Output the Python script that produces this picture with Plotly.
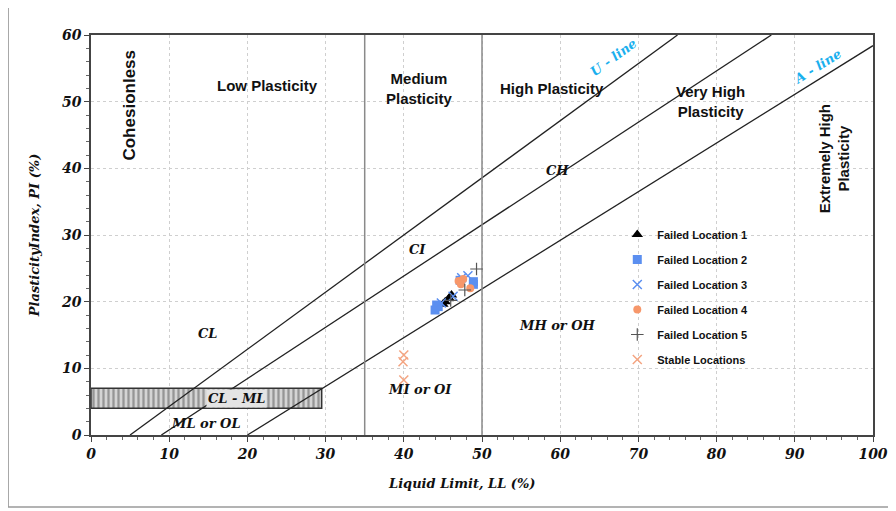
import plotly.graph_objects as go

# ---- data ----
fl1_ll = [46.1, 45.8, 45.3, 45.0]
fl1_pi = [21.0, 20.5, 20.0, 19.6]
fl2_ll = [44.0, 44.4, 44.2, 48.9, 48.9, 47.2]
fl2_pi = [18.75, 19.25, 19.5, 23.0, 22.6, 23.2]
fl3_ll = [48.2, 46.3, 44.8, 47.4]
fl3_pi = [23.9, 20.8, 19.8, 23.6]
fl4_ll = [47.0, 47.6, 48.5, 47.3]
fl4_pi = [23.1, 23.4, 22.0, 22.6]
fl5_ll = [49.3, 47.8, 46.0]
fl5_pi = [24.9, 21.75, 20.2]
st_ll = [40.0, 39.9, 40.0]
st_pi = [12.0, 11.0, 8.25]

uline_ll = [5, 75]
uline_pi = [0, 60]
mid_ll = [9, 87]
mid_pi = [0, 60]
aline_ll = [20, 100]
aline_pi = [0, 58.4]

hatch_ll = [0, 29.5, 29.5, 0, 0]
hatch_pi = [4, 4, 7, 7, 4]

bounds_ll = [35, 50]

script_font = "DejaVu Serif"
sans = "Liberation Sans"

fig = go.Figure()

# hatched CL-ML zone
fig.add_trace(go.Scatter(x=hatch_ll, y=hatch_pi, mode="lines", fill="toself",
                         line=dict(color="#333333", width=1.5),
                         fillpattern=dict(shape="|", bgcolor="#d4d4d4", fgcolor="#555555",
                                          size=5, solidity=0.45),
                         fillcolor="#d4d4d4",
                         showlegend=False, hoverinfo="skip"))

for lx, ly in [(uline_ll, uline_pi), (mid_ll, mid_pi), (aline_ll, aline_pi)]:
    fig.add_trace(go.Scatter(x=lx, y=ly, mode="lines", line=dict(color="#222222", width=1.3),
                             showlegend=False, hoverinfo="skip"))

for b in bounds_ll:
    fig.add_trace(go.Scatter(x=[b, b], y=[0, 60], mode="lines",
                             line=dict(color="#8a8a8a", width=1.5),
                             showlegend=False, hoverinfo="skip"))

series = [
    ("Failed Location 1", fl1_ll, fl1_pi, dict(symbol="triangle-up", color="black", size=10)),
    ("Failed Location 2", fl2_ll, fl2_pi, dict(symbol="square", color="#5b8ff0", size=9)),
    ("Failed Location 3", fl3_ll, fl3_pi, dict(symbol="x-thin-open", color="#5b8ff0", size=9,
                                                line=dict(color="#5b8ff0", width=1.5))),
    ("Failed Location 4", fl4_ll, fl4_pi, dict(symbol="circle", color="#f7976a", size=8)),
    ("Failed Location 5", fl5_ll, fl5_pi, dict(symbol="cross-thin-open", color="#555555", size=9,
                                                line=dict(color="#555555", width=1.2))),
    ("Stable Locations", st_ll, st_pi, dict(symbol="x-thin-open", color="#f4a582", size=9,
                                             line=dict(color="#f4a582", width=1.5))),
]
for i, (name, xs, ys, mk) in enumerate(series):
    fig.add_trace(go.Scatter(x=xs, y=ys, mode="markers", name=name, marker=mk,
                             legendgroup=f"g{i}"))

# annotations
def ann(x, y, text, size=15, font=sans, color="#111111", angle=0, bold=True, italic=False, **kw):
    t = text
    if bold:
        t = f"<b>{t}</b>"
    if italic:
        t = f"<i>{t}</i>"
    fig.add_annotation(x=x, y=y, xref="x", yref="y", text=t, showarrow=False,
                       font=dict(family=font, size=size, color=color), textangle=angle, **kw)

ann(4.8, 49.5, "Cohesionless", size=17, angle=-90)
ann(22.6, 52.5, "Low Plasticity", size=15)
ann(42.0, 52.0, "Medium<br>Plasticity", size=15)
ann(58.9, 52.0, "High Plasticity", size=15)
ann(79.2, 50.0, "Very High<br>Plasticity", size=15)
ann(95.0, 41.5, "Extremely High<br>Plasticity", size=15, angle=-90)
ann(66.8, 56.6, "U - line", size=13, font=script_font, color="#1ab0ee", angle=-36, italic=True)
ann(92.9, 55.3, "A - line", size=13, font=script_font, color="#1ab0ee", angle=-32, italic=True)
ann(59.6, 39.7, "CH", size=13, font=script_font, italic=True)
ann(41.8, 27.9, "CI", size=13, font=script_font, italic=True)
ann(15.0, 15.2, "CL", size=13, font=script_font, italic=True)
ann(59.7, 16.5, "MH or OH", size=13, font=script_font, italic=True)
ann(42.1, 6.8, "MI or OI", size=13, font=script_font, italic=True)
ann(18.6, 5.5, "CL - ML", size=13, font=script_font, italic=True, bgcolor="#e4e4e4", borderpad=1)
ann(14.7, 1.8, "ML or OL", size=13, font=script_font, italic=True)

# x-axis title (placed slightly left of centre as in the reference)
fig.add_annotation(x=0.474, y=-0.145, xref="paper", yref="paper", showarrow=False,
                   text="<b><i>Liquid Limit, LL (%)</i></b>",
                   font=dict(family=script_font, size=13, color="#111111"))

# outer frame
fig.add_shape(type="rect", xref="paper", yref="paper", x0=-0.106, x1=1.026, y0=-0.18, y1=1.2,
              line=dict(color="#9a9a9a", width=1.5), layer="below")

fig.update_layout(
    width=896, height=511,
    margin=dict(l=83, r=31, t=27, b=84),
    plot_bgcolor="white", paper_bgcolor="white",
    legend=dict(x=0.673, y=0.5375, xanchor="left", yanchor="top",
                font=dict(family=sans, size=11, color="#111111", weight="bold"),
                bgcolor="rgba(0,0,0,0)", tracegroupgap=6, itemwidth=30),
    xaxis=dict(range=[0, 100], dtick=10, tick0=0,
               showgrid=True, gridcolor="#cfcfcf", griddash="dot", gridwidth=1,
               zeroline=False, showline=True, linecolor="#444444", linewidth=1.5, mirror=True,
               ticks="outside", ticklen=5, tickcolor="#444444",
               minor=dict(dtick=2, ticks="outside", ticklen=3, tickcolor="#666666", showgrid=False),
               tickfont=dict(family=script_font, size=14, color="#111111", style="italic", weight="bold")),
    yaxis=dict(range=[0, 60], dtick=10, tick0=0,
               showgrid=True, gridcolor="#cfcfcf", griddash="dot", gridwidth=1,
               zeroline=False, showline=True, linecolor="#444444", linewidth=1.5, mirror=True,
               ticks="outside", ticklen=5, tickcolor="#444444",
               minor=dict(dtick=2, ticks="outside", ticklen=3, tickcolor="#666666", showgrid=False),
               tickfont=dict(family=script_font, size=14, color="#111111", style="italic", weight="bold"),
               title=dict(text="<b><i>PlasticityIndex, PI (%)</i></b>",
                          font=dict(family=script_font, size=13, color="#111111"), standoff=18)),
)

fig.write_html("out.html")
